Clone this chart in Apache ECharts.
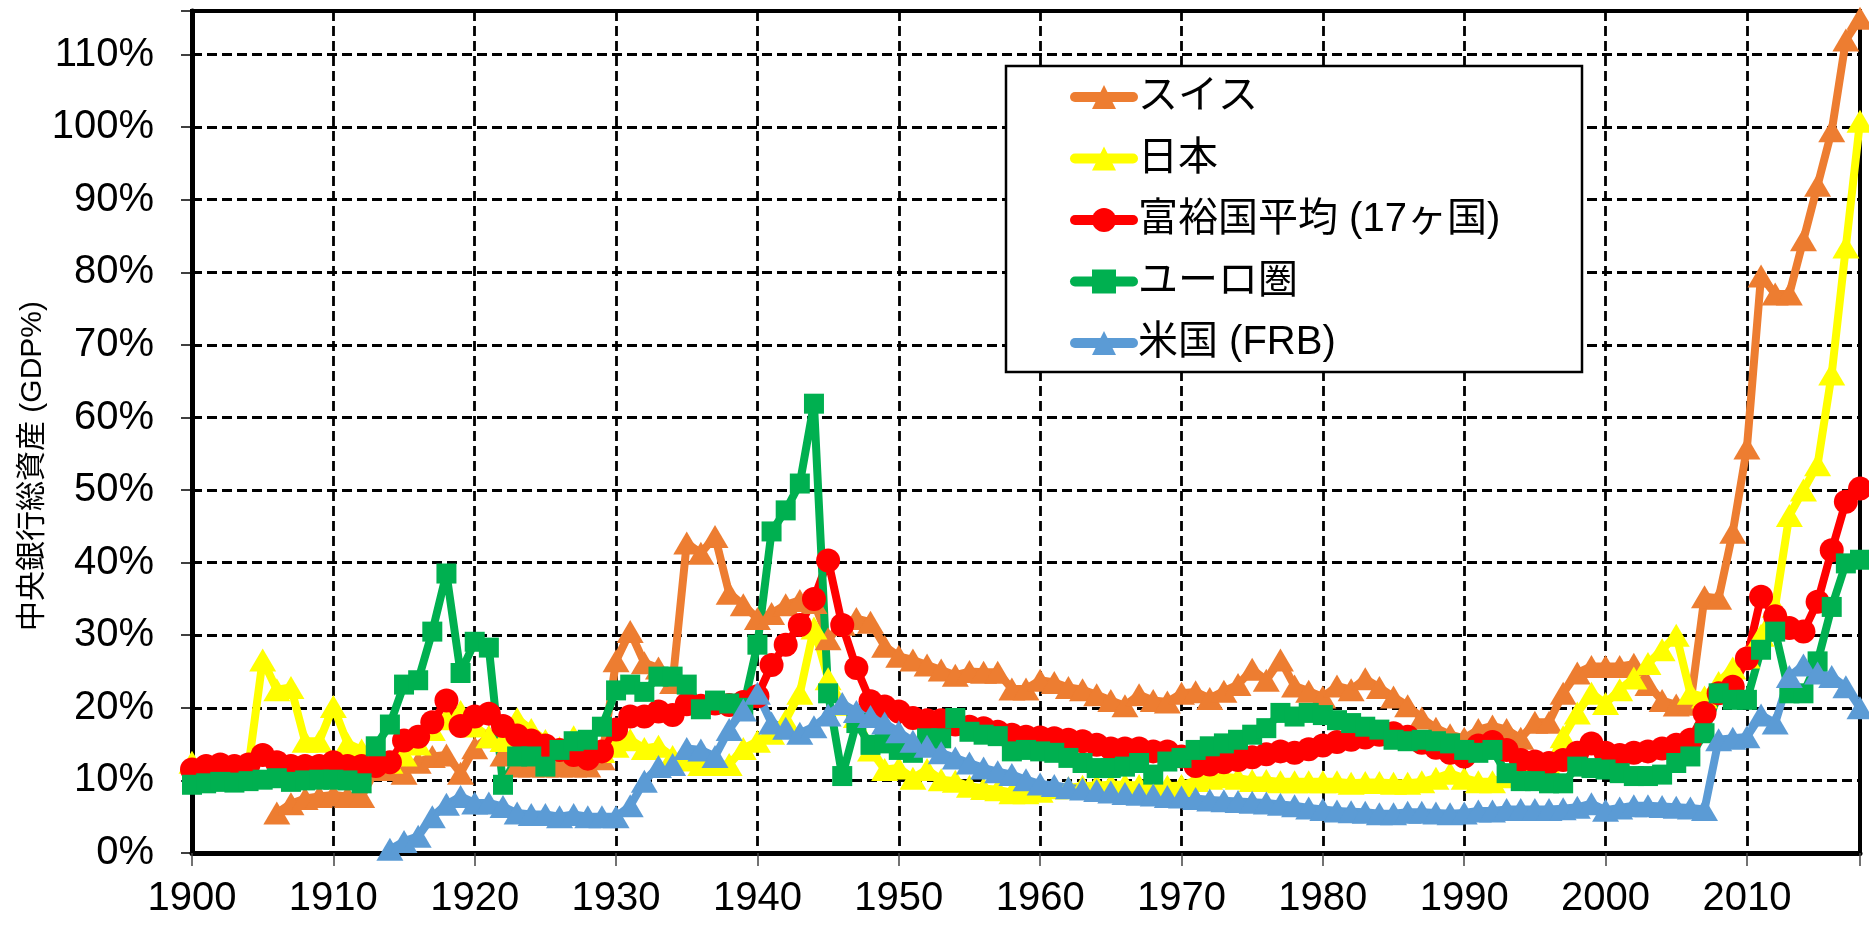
<!DOCTYPE html>
<html><head><meta charset="utf-8">
<script src="https://cdn.jsdelivr.net/npm/echarts@6.0.0/dist/echarts.min.js"></script>
<style>html,body{margin:0;padding:0;background:#fff;}#c{width:1869px;height:925px;}</style>
</head><body><div id="c"></div>
<script>
const startYear = 1900;
const seriesNames = ['スイス', '日本', '富裕国平均 (17ヶ国)', 'ユーロ圏', '米国 (FRB)'];
// values in % of GDP, one per year from 1900 to 2018
const swiss = [
 null, null, null, null, null, null, 5.5, 6.8, 7.5, 7.8,
 8.0, 7.8, 7.8, 11.5, 11.5, 11.0, 12.5, 13.3, 13.5, 11.0,
 14.5, 16.0, 13.5, 12.0, 12.0, 12.0, 12.0, 12.0, 12.0, 13.0,
 26.5, 30.5, 26.2, 25.5, 23.5, 42.7, 41.3, 43.6, 35.8, 34.2,
 32.3, 33.0, 34.2, 34.8, 34.5, 29.5, 31.5, 32.3, 31.8, 28.5,
 27.1, 26.6, 25.9, 25.2, 24.5, 25.0, 24.9, 24.9, 22.6, 22.6,
 23.8, 23.5, 22.8, 22.5, 21.8, 21.0, 20.3, 21.8, 21.0, 20.8,
 22.0, 22.2, 21.3, 22.3, 23.2, 25.3, 23.8, 26.6, 23.0, 22.3,
 21.5, 23.0, 22.5, 24.0, 22.8, 21.5, 20.3, 18.6, 17.2, 16.3,
 15.8, 17.0, 17.5, 17.0, 15.8, 18.0, 18.0, 22.0, 24.8, 25.7,
 25.7, 25.7, 26.0, 23.2, 21.0, 20.4, 20.5, 35.3, 35.1, 44.2,
 55.8, 79.5, 77.0, 77.0, 84.5, 92.0, 99.5, 112.0, 115.0
];
const japan = [
 12.5, 11.5, 11.5, 11.8, 12.0, 26.6, 22.5, 22.8, 15.4, 15.4,
 20.2, 15.1, 14.2, 13.0, 12.5, 13.5, 15.0, 17.0, 18.5, 19.5,
 17.5, 16.0, 15.5, 18.5, 17.0, 15.5, 14.5, 16.0, 14.5, 14.0,
 14.7, 15.6, 14.4, 14.7, 13.3, 12.8, 12.2, 12.2, 12.2, 14.4,
 15.4, 16.5, 18.3, 22.0, 31.0, 24.0, 20.5, 18.8, 14.2, 11.5,
 11.7, 10.3, 11.5, 10.1, 9.9, 9.2, 8.9, 8.7, 8.3, 8.3,
 8.5, 9.0, 9.0, 9.2, 9.3, 9.4, 9.4, 9.3, 9.2, 9.2,
 9.3, 10.0, 10.3, 10.5, 10.3, 10.0, 10.0, 9.8, 9.8, 9.8,
 9.8, 9.8, 9.6, 9.7, 9.7, 9.6, 9.6, 9.8, 10.3, 11.0,
 10.3, 9.8, 9.8, 10.5, 11.0, 11.5, 12.0, 16.0, 19.3, 22.0,
 20.6, 22.5, 24.1, 26.1, 28.0, 30.0, 22.0, 21.5, 23.5, 25.5,
 27.0, 30.0, 34.0, 46.5, 50.0, 53.5, 66.0, 83.5, 100.8
];
const richAvg = [
 11.5, 12.0, 12.2, 12.0, 12.2, 13.5, 12.5, 12.0, 12.0, 12.0,
 12.5, 12.0, 12.0, 12.0, 12.5, 15.5, 16.0, 18.0, 21.0, 17.5,
 18.8, 19.2, 17.5, 16.2, 15.5, 14.8, 14.2, 13.5, 13.0, 14.0,
 17.0, 18.8, 18.8, 19.5, 19.0, 20.5, 20.3, 20.6, 20.4, 20.8,
 21.6, 25.9, 28.7, 31.4, 35.0, 40.3, 31.4, 25.5, 20.9, 20.2,
 19.5, 18.6, 18.3, 18.3, 17.7, 17.4, 17.2, 16.7, 16.3, 16.0,
 15.9, 15.8, 15.6, 15.4, 14.9, 14.4, 14.4, 14.4, 14.0, 14.0,
 13.3, 12.0, 12.2, 12.5, 12.8, 13.2, 13.6, 14.0, 13.8, 14.3,
 14.8, 15.3, 15.6, 15.9, 16.3, 16.5, 16.0, 15.2, 14.5, 13.8,
 13.3, 14.8, 15.3, 14.2, 12.8, 12.6, 12.4, 12.8, 13.8, 15.1,
 13.8, 13.5, 13.8, 14.0, 14.4, 14.9, 15.6, 19.3, 22.0, 22.9,
 26.8, 35.3, 32.6, 31.0, 30.5, 34.6, 41.7, 48.4, 50.2
];
const euroArea = [
 9.4, 9.6, 9.8, 9.7, 9.9, 10.1, 10.3, 9.8, 10.0, 10.1,
 10.1, 10.0, 9.6, 14.7, 17.7, 23.2, 23.8, 30.5, 38.5, 24.8,
 29.1, 28.3, 9.4, 13.3, 13.3, 11.9, 14.2, 15.4, 15.6, 17.4,
 22.4, 23.2, 22.2, 24.3, 24.3, 23.2, 19.8, 21.0, 20.6, 20.0,
 28.7, 44.3, 47.2, 50.9, 61.9, 22.0, 10.6, 17.9, 14.9, 15.1,
 14.2, 13.8, 15.8, 15.8, 18.6, 16.7, 16.3, 16.1, 14.0, 14.2,
 14.0, 13.8, 13.1, 12.4, 11.7, 11.7, 11.9, 12.4, 10.8, 12.6,
 13.1, 14.2, 14.7, 15.1, 15.6, 16.3, 17.2, 19.3, 18.8, 19.3,
 19.0, 18.3, 17.9, 17.4, 17.0, 15.6, 15.4, 15.6, 15.4, 15.1,
 14.2, 13.8, 14.2, 11.0, 9.9, 9.9, 9.6, 9.6, 11.9, 11.7,
 11.5, 11.0, 10.6, 10.6, 10.8, 12.4, 13.3, 16.5, 22.0, 21.1,
 21.1, 28.0, 30.5, 22.0, 22.0, 26.4, 33.9, 39.9, 40.4
];
const usFrb = [
 null, null, null, null, null, null, null, null, null, null,
 null, null, null, null, 0.5, 1.6, 2.3, 5.0, 6.7, 7.8,
 6.9, 6.9, 6.4, 5.5, 5.3, 5.3, 5.0, 5.3, 5.0, 5.0,
 5.0, 6.5, 9.9, 11.9, 12.2, 14.4, 14.2, 13.3, 17.0, 19.7,
 22.0, 17.9, 17.2, 16.5, 17.4, 19.0, 20.6, 19.5, 18.8, 17.9,
 16.7, 15.4, 14.7, 13.8, 13.1, 12.4, 11.7, 11.2, 10.8, 10.1,
 9.5, 9.3, 9.0, 8.8, 8.6, 8.4, 8.2, 8.1, 8.0, 7.8,
 7.7, 7.5, 7.3, 7.2, 7.1, 7.0, 6.9, 6.7, 6.5, 6.2,
 6.0, 5.8, 5.7, 5.6, 5.4, 5.4, 5.6, 5.6, 5.5, 5.4,
 5.5, 5.8, 5.8, 6.0, 6.0, 6.0, 6.0, 6.1, 6.3, 6.8,
 5.9, 6.2, 6.5, 6.5, 6.4, 6.3, 6.2, 6.0, 15.6, 15.8,
 16.0, 19.0, 17.9, 24.3, 25.9, 24.8, 24.3, 22.9, 20.0
];
const yAxisTitle = '中央銀行総資産 (GDP%)';

const colors = ['#ED7D31', '#FFFF00', '#FF0000', '#00B050', '#5B9BD5'];
const symbols = ['triangle', 'triangle', 'circle', 'rect', 'triangle'];
const symSizes = [[27, 23], [27, 23], 24, 20, [27, 23]];
const allData = [swiss, japan, richAvg, euroArea, usFrb];

const latin = "'Liberation Sans', Arial, 'Noto Sans CJK JP', sans-serif";
const narrow = "'Liberation Sans Narrow', 'Arial Narrow', 'Liberation Sans', Arial, sans-serif";

const chart = echarts.init(document.getElementById('c'), null, {renderer: 'canvas', width: 1869, height: 925});
const gridLine = {show: true, lineStyle: {color: '#000', type: [10, 5], width: 2.8}};
chart.setOption({
  animation: false,
  backgroundColor: '#fff',
  grid: {left: 192, right: 9, top: 11, bottom: 72, show: true, borderColor: '#000', borderWidth: 4, backgroundColor: 'transparent', containLabel: false, outerBoundsMode: 'none'},
  xAxis: {
    type: 'value', min: 1900, max: 2018, interval: 10,
    axisLine: {show: true, onZero: false, lineStyle: {color: '#000', width: 5}},
    axisTick: {show: true, length: 13, lineStyle: {color: '#444', width: 1.5}},
    axisLabel: {fontSize: 40, fontFamily: narrow, color: '#000', margin: 26,
      formatter: v => (v % 10 === 0 ? String(v) : '')},
    splitLine: gridLine
  },
  yAxis: {
    type: 'value', min: 0, max: 116, interval: 10,
    axisLine: {show: true, lineStyle: {color: '#000', width: 5}},
    axisTick: {show: true, length: 11, lineStyle: {color: '#000', width: 1.5}},
    axisLabel: {fontSize: 40, fontFamily: latin, color: '#000', margin: 38,
      formatter: v => (v % 10 === 0 ? v + '%' : '')},
    splitLine: gridLine
  },
  legend: {
    data: seriesNames, orient: 'vertical', left: 1070, top: 75, padding: 0,
    itemGap: 17.5, itemWidth: 58, itemHeight: 30, selectedMode: false, z: 10,
    lineStyle: {width: 10, cap: 'round'},
    textStyle: {fontSize: 40, lineHeight: 44, color: '#000', fontFamily: latin}
  },
  graphic: [
    {type: 'rect', z: 5, shape: {x: 1006, y: 66, width: 576, height: 306},
     style: {fill: '#fff', stroke: '#000', lineWidth: 2.5}},
    {type: 'text', z: 5, x: 33, y: 466, rotation: Math.PI / 2,
     style: {text: yAxisTitle, fontSize: 30, fontFamily: latin, fill: '#000', align: 'center', verticalAlign: 'middle'}}
  ],
  series: allData.map((arr, k) => ({
    name: seriesNames[k], type: 'line',
    data: arr.map((v, i) => [startYear + i, v]),
    symbol: symbols[k], symbolSize: symSizes[k], showAllSymbol: true,
    lineStyle: {color: colors[k], width: 8},
    itemStyle: {color: colors[k], borderWidth: 0},
    emphasis: {disabled: true}
  }))
});
</script></body></html>
